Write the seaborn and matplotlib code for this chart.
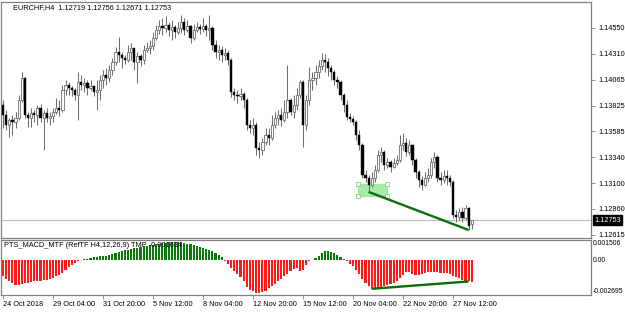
import numpy as np
import pandas as pd
import matplotlib
matplotlib.use("Agg")
import matplotlib.pyplot as plt
import matplotlib.transforms as mtransforms
from matplotlib.patches import Rectangle
import seaborn as sns

# ---------------- data ----------------
symbol_title = "EURCHF,H4  1.12719 1.12756 1.12671 1.12753"
indicator_title = "PTS_MACD_MTF (RefTF H4,12,26,9) TMP -0.001634"
last_price = 1.12753

opens = [1.13830, 1.13737, 1.13643, 1.13690, 1.13671, 1.13709, 1.13877, 1.14083, 1.13737, 1.13709,
         1.13755, 1.13737, 1.13802, 1.13709, 1.13755, 1.13709, 1.13727, 1.13765, 1.13802, 1.13783,
         1.13970, 1.14017, 1.13989, 1.13970, 1.13924, 1.14045, 1.14017, 1.14036, 1.13989, 1.14008,
         1.13952, 1.13970, 1.14064, 1.14111, 1.14083, 1.14157, 1.14232, 1.14326, 1.14298, 1.14270,
         1.14251, 1.14326, 1.14363, 1.14232, 1.14288, 1.14251, 1.14344, 1.14363, 1.14382, 1.14457,
         1.14531, 1.14569, 1.14550, 1.14578, 1.14531, 1.14560, 1.14513, 1.14550, 1.14606, 1.14531,
         1.14569, 1.14457, 1.14531, 1.14560, 1.14541, 1.14569, 1.14531, 1.14550, 1.14391, 1.14326,
         1.14344, 1.14298, 1.14316, 1.14251, 1.13952, 1.13924, 1.13914, 1.13933, 1.13877, 1.13643,
         1.13615, 1.13643, 1.13428, 1.13409, 1.13484, 1.13550, 1.13522, 1.13643, 1.13709, 1.13737,
         1.13690, 1.13765, 1.13877, 1.13765, 1.13830, 1.13924, 1.14045, 1.13643, 1.13877, 1.14064,
         1.14083, 1.14139, 1.14195, 1.14251, 1.14232, 1.14176, 1.14139, 1.14064, 1.14045, 1.13924,
         1.13830, 1.13718, 1.13699, 1.13671, 1.13550, 1.13456, 1.13176, 1.13148, 1.13082, 1.13148,
         1.13222, 1.13363, 1.13391, 1.13269, 1.13297, 1.13251, 1.13288, 1.13316, 1.13456, 1.13475,
         1.13391, 1.13456, 1.13316, 1.13204, 1.13129, 1.13082, 1.13148, 1.13176, 1.13297, 1.13344,
         1.13148, 1.13129, 1.13166, 1.13148, 1.13110, 1.12802, 1.12783, 1.12830, 1.12774, 1.12867,
         1.12719]

highs = [1.13877, 1.13783, 1.13709, 1.13737, 1.13765, 1.13924, 1.14139, 1.14092, 1.13765, 1.13802,
         1.13783, 1.13830, 1.13840, 1.13783, 1.13802, 1.13765, 1.13802, 1.13896, 1.13877, 1.14017,
         1.14064, 1.14045, 1.14008, 1.13989, 1.14139, 1.14111, 1.14083, 1.14064, 1.14064, 1.14017,
         1.14064, 1.14111, 1.14157, 1.14176, 1.14204, 1.14270, 1.14373, 1.14466, 1.14326, 1.14298,
         1.14391, 1.14410, 1.14363, 1.14326, 1.14307, 1.14391, 1.14419, 1.14438, 1.14513, 1.14578,
         1.14625, 1.14644, 1.14662, 1.14606, 1.14625, 1.14578, 1.14606, 1.14672, 1.14644, 1.14625,
         1.14578, 1.14588, 1.14606, 1.14588, 1.14644, 1.14588, 1.14672, 1.14569, 1.14438, 1.14391,
         1.14382, 1.14363, 1.14344, 1.14270, 1.13989, 1.13970, 1.13989, 1.13952, 1.13896, 1.13690,
         1.13709, 1.13671, 1.13484, 1.13522, 1.13615, 1.13615, 1.13737, 1.13765, 1.13783, 1.13802,
         1.13877, 1.14204, 1.13896, 1.13924, 1.13989, 1.14064, 1.14064, 1.13924, 1.14186, 1.14139,
         1.14204, 1.14251, 1.14316, 1.14307, 1.14270, 1.14204, 1.14157, 1.14101, 1.14064, 1.13942,
         1.13877, 1.13755, 1.13727, 1.13690, 1.13596, 1.13475, 1.13222, 1.13176, 1.13204, 1.13269,
         1.13409, 1.13438, 1.13409, 1.13335, 1.13316, 1.13335, 1.13363, 1.13550, 1.13568, 1.13522,
         1.13503, 1.13456, 1.13335, 1.13222, 1.13166, 1.13204, 1.13241, 1.13335, 1.13391, 1.13363,
         1.13204, 1.13222, 1.13222, 1.13176, 1.13129, 1.12848, 1.12867, 1.12877, 1.12895, 1.12877,
         1.12756]

lows = [1.13615, 1.13596, 1.13531, 1.13550, 1.13615, 1.13690, 1.13858, 1.13709, 1.13625, 1.13625,
        1.13671, 1.13643, 1.13671, 1.13409, 1.13671, 1.13643, 1.13671, 1.13746, 1.13727, 1.13765,
        1.13924, 1.13924, 1.13914, 1.13877, 1.13690, 1.13970, 1.13952, 1.13924, 1.13970, 1.13914,
        1.13783, 1.13877, 1.13989, 1.14017, 1.14045, 1.14111, 1.14204, 1.14232, 1.14176, 1.14214,
        1.14232, 1.14251, 1.14157, 1.14036, 1.14195, 1.14214, 1.14326, 1.14307, 1.14344, 1.14438,
        1.14494, 1.14485, 1.14513, 1.14475, 1.14438, 1.14457, 1.14494, 1.14503, 1.14485, 1.14513,
        1.14410, 1.14438, 1.14513, 1.14494, 1.14513, 1.14475, 1.14438, 1.14344, 1.14270, 1.14251,
        1.14232, 1.14251, 1.14204, 1.13905, 1.13877, 1.13849, 1.13877, 1.13802, 1.13596, 1.13568,
        1.13550, 1.13363, 1.13335, 1.13363, 1.13456, 1.13456, 1.13503, 1.13615, 1.13643, 1.13634,
        1.13671, 1.13709, 1.13737, 1.13709, 1.13783, 1.13896, 1.13438, 1.13596, 1.13830, 1.13970,
        1.14017, 1.14083, 1.14157, 1.14139, 1.14101, 1.14064, 1.14017, 1.13989, 1.13877, 1.13765,
        1.13690, 1.13671, 1.13643, 1.13503, 1.13409, 1.13148, 1.13110, 1.13017, 1.13064, 1.13110,
        1.13204, 1.13297, 1.13222, 1.13241, 1.13204, 1.13241, 1.13269, 1.13297, 1.13409, 1.13353,
        1.13363, 1.13269, 1.13148, 1.13064, 1.13035, 1.13073, 1.13110, 1.13148, 1.13241, 1.13110,
        1.13082, 1.13101, 1.13082, 1.13073, 1.12774, 1.12736, 1.12755, 1.12736, 1.12755, 1.12661,
        1.12671]

closes = [1.13737, 1.13643, 1.13690, 1.13671, 1.13709, 1.13877, 1.14083, 1.13737, 1.13709, 1.13755,
          1.13737, 1.13802, 1.13709, 1.13755, 1.13709, 1.13727, 1.13765, 1.13802, 1.13783, 1.13970,
          1.14017, 1.13989, 1.13970, 1.13924, 1.14045, 1.14017, 1.14036, 1.13989, 1.14008, 1.13952,
          1.13970, 1.14064, 1.14111, 1.14083, 1.14157, 1.14232, 1.14326, 1.14298, 1.14270, 1.14251,
          1.14326, 1.14363, 1.14232, 1.14288, 1.14251, 1.14344, 1.14363, 1.14382, 1.14457, 1.14531,
          1.14569, 1.14550, 1.14578, 1.14531, 1.14560, 1.14513, 1.14550, 1.14606, 1.14531, 1.14569,
          1.14457, 1.14531, 1.14560, 1.14541, 1.14569, 1.14531, 1.14550, 1.14391, 1.14326, 1.14344,
          1.14298, 1.14316, 1.14251, 1.13952, 1.13924, 1.13914, 1.13933, 1.13877, 1.13643, 1.13615,
          1.13643, 1.13428, 1.13409, 1.13484, 1.13550, 1.13522, 1.13643, 1.13709, 1.13737, 1.13690,
          1.13765, 1.13877, 1.13765, 1.13830, 1.13924, 1.14045, 1.13643, 1.13877, 1.14064, 1.14083,
          1.14139, 1.14195, 1.14251, 1.14232, 1.14176, 1.14139, 1.14064, 1.14045, 1.13924, 1.13830,
          1.13718, 1.13699, 1.13671, 1.13550, 1.13456, 1.13176, 1.13148, 1.13082, 1.13148, 1.13222,
          1.13363, 1.13391, 1.13269, 1.13297, 1.13251, 1.13288, 1.13316, 1.13456, 1.13475, 1.13391,
          1.13456, 1.13316, 1.13204, 1.13129, 1.13082, 1.13148, 1.13176, 1.13297, 1.13344, 1.13148,
          1.13129, 1.13166, 1.13148, 1.13110, 1.12802, 1.12783, 1.12830, 1.12774, 1.12867, 1.12699,
          1.12753]

macd_hist = [-0.00127, -0.00145, -0.00160, -0.00178, -0.00191, -0.00191, -0.00183, -0.00180, -0.00176, -0.00168,
             -0.00165, -0.00164, -0.00160, -0.00157, -0.00153, -0.00149, -0.00138, -0.00126, -0.00115, -0.00099,
             -0.00076, -0.00053, -0.00038, -0.00023, -0.00011, -0.00002, 0.00003, 0.00009, 0.00013, 0.00017,
             0.00020, 0.00025, 0.00028, 0.00032, 0.00038, 0.00043, 0.00050, 0.00058, 0.00065, 0.00071,
             0.00078, 0.00084, 0.00089, 0.00093, 0.00098, 0.00102, 0.00106, 0.00110, 0.00115, 0.00119,
             0.00123, 0.00127, 0.00130, 0.00132, 0.00134, 0.00135, 0.00134, 0.00132, 0.00127, 0.00123,
             0.00117, 0.00111, 0.00105, 0.00098, 0.00092, 0.00084, 0.00076, 0.00068, 0.00055, 0.00038,
             0.00017, -0.00011, -0.00031, -0.00061, -0.00084, -0.00107, -0.00130, -0.00160, -0.00206, -0.00229,
             -0.00241, -0.00252, -0.00252, -0.00248, -0.00241, -0.00216, -0.00199, -0.00183, -0.00164, -0.00145,
             -0.00126, -0.00107, -0.00088, -0.00073, -0.00063, -0.00089, -0.00076, -0.00038, -0.00012, -0.00002,
             0.00011, 0.00025, 0.00051, 0.00063, 0.00069, 0.00059, 0.00051, 0.00033, 0.00018, 0.00004,
             -0.00012, -0.00031, -0.00051, -0.00076, -0.00107, -0.00145, -0.00180, -0.00202, -0.00222, -0.00222,
             -0.00218, -0.00210, -0.00202, -0.00195, -0.00187, -0.00176, -0.00160, -0.00138, -0.00115, -0.00092,
             -0.00096, -0.00107, -0.00115, -0.00115, -0.00111, -0.00103, -0.00097, -0.00096, -0.00096, -0.00097,
             -0.00099, -0.00102, -0.00105, -0.00109, -0.00122, -0.00135, -0.00141, -0.00153, -0.00160, -0.00166,
             -0.00168]

time_tick_bars = [0, 16, 32, 48, 64, 80, 96, 112, 128, 144]
time_tick_labels = ["24 Oct 2018", "29 Oct 04:00", "31 Oct 20:00", "5 Nov 12:00", "8 Nov 04:00",
                    "12 Nov 20:00", "15 Nov 12:00", "20 Nov 04:00", "22 Nov 20:00", "27 Nov 12:00"]
price_ticks = [1.14550, 1.14310, 1.14065, 1.13825, 1.13585, 1.13340, 1.13100, 1.12860, 1.12615]
price_tick_labels = ["1.14550", "1.14310", "1.14065", "1.13825", "1.13585", "1.13340", "1.13100", "1.12860", "1.12615"]
macd_max = 0.001506
macd_min = -0.002695
macd_tick_labels = ["-0.002695", "0.00", "0.001506"]

# annotation objects drawn on the chart
zone_bars = (113.6, 122.9)
zone_prices = (1.12979, 1.13092)
trend_bars = (117, 149)
macd_trend_bars = (118, 149)

# ---------------- style ----------------
sns.set_theme(style="white")
plt.rcParams["font.family"] = ["Liberation Sans", "DejaVu Sans"]
FS = 5.3
SPINE = "#808080"

fig = plt.figure(figsize=(6.25, 3.13), dpi=100, facecolor="white")
W, H = 625.0, 313.0
ax1 = fig.add_axes([1 / W, 1 - 237.5 / H, 590 / W, 235.5 / H])
ax2 = fig.add_axes([1 / W, 1 - 295 / H, 590 / W, 55 / H])

idx = np.arange(len(closes))
o = np.array(opens)
c = np.array(closes)
hi = np.array(highs)
lo = np.array(lows)

# ---- candles ----
ax1.axhline(last_price, color="#c0c0c0", lw=0.9, zorder=1)
zone = Rectangle((zone_bars[0], zone_prices[0]), zone_bars[1] - zone_bars[0],
                 zone_prices[1] - zone_prices[0], facecolor="#9be89b", edgecolor="#9be89b",
                 alpha=0.9, zorder=1.5)
ax1.add_patch(zone)
ax1.plot([zone_bars[0], zone_bars[1], zone_bars[0], zone_bars[1]],
         [zone_prices[0], zone_prices[0], zone_prices[1], zone_prices[1]],
         linestyle="none", marker="s", ms=2.4, mfc="white", mec="#7fd67f", mew=0.6, zorder=4)

ax1.vlines(idx, lo, hi, color="#6e6e6e", lw=0.75, zorder=2)
bull = c >= o
body_bot = np.minimum(o, c)
body_h = np.maximum(np.abs(c - o), 0.00002)
ax1.bar(idx[bull], body_h[bull], bottom=body_bot[bull], width=0.72, color="white",
        edgecolor="#6e6e6e", linewidth=0.6, zorder=3)
ax1.bar(idx[~bull], body_h[~bull], bottom=body_bot[~bull], width=0.72, color="black",
        edgecolor="black", linewidth=0.3, zorder=3)

ax1.plot([trend_bars[0], trend_bars[1]], [lows[trend_bars[0]], lows[trend_bars[1]]],
         color="#0a6e0a", lw=1.7, zorder=5, solid_capstyle="butt")

xmin, xmax = -0.64, 188.16
ax1.set_xlim(xmin, xmax)
ax1.set_ylim(1.12591, 1.14793)
ax1.yaxis.tick_right()
ax1.set_yticks(price_ticks)
ax1.set_yticklabels(price_tick_labels)
ax1.set_xticks([])
ax1.tick_params(axis="y", direction="out", length=3, width=0.6, pad=2.5, labelsize=FS,
                color=SPINE, labelcolor="black", right=True, left=False)
for sp in ax1.spines.values():
    sp.set_color(SPINE)
    sp.set_linewidth(0.9)

blend = mtransforms.blended_transform_factory(ax1.transAxes, ax1.transData)
ax1.text(1 + 3 / 590, last_price, "%.5f" % last_price, transform=blend, color="white",
         fontsize=FS, va="center", ha="left", clip_on=False,
         bbox=dict(facecolor="black", edgecolor="black", pad=0.9), zorder=10)

# ---- MACD histogram (seaborn) ----
df = pd.DataFrame({"bar": idx, "hist": macd_hist,
                   "sign": np.where(np.array(macd_hist) >= 0, "up", "down")})
sns.barplot(data=df, x="bar", y="hist", hue="sign",
            palette={"up": "#0b7a0b", "down": "#ff1a1a"}, native_scale=True,
            width=0.66, dodge=False, legend=False, errorbar=None, saturation=1,
            linewidth=0, ax=ax2)
ax2.plot([macd_trend_bars[0], macd_trend_bars[1]],
         [macd_hist[macd_trend_bars[0]], macd_hist[macd_trend_bars[1]]],
         color="#0a6e0a", lw=1.7, zorder=5, solid_capstyle="butt")
ax2.set_xlim(xmin, xmax)
ax2.set_ylim(macd_min, macd_max)
ax2.set_xlabel("")
ax2.set_ylabel("")
ax2.yaxis.tick_right()
ax2.set_yticks([macd_min, 0.0, macd_max])
ax2.set_yticklabels(macd_tick_labels)
ax2.tick_params(axis="y", direction="out", length=0, pad=1.2, labelsize=4.9, labelcolor="black",
                right=True, left=False)
ylabs = ax2.get_yticklabels()
ylabs[0].set_verticalalignment("bottom")
ylabs[2].set_verticalalignment("top")
ax2.set_xticks(time_tick_bars)
ax2.set_xticklabels(time_tick_labels)
for t in ax2.get_xticklabels():
    t.set_horizontalalignment("left")
ax2.tick_params(axis="x", direction="out", length=3, width=0.6, pad=1.5, labelsize=FS,
                color=SPINE, labelcolor="black", bottom=True)
for sp in ax2.spines.values():
    sp.set_color(SPINE)
    sp.set_linewidth(0.9)

# ---- titles ----
fig.text(13 / W, 1 - 8 / H, symbol_title, fontsize=FS, va="center", ha="left", color="black")
fig.text(4 / W, 1 - 245.5 / H, indicator_title, fontsize=FS, va="center", ha="left",
         color="black", zorder=20)

fig.savefig("out.png", dpi=100, facecolor="white")
